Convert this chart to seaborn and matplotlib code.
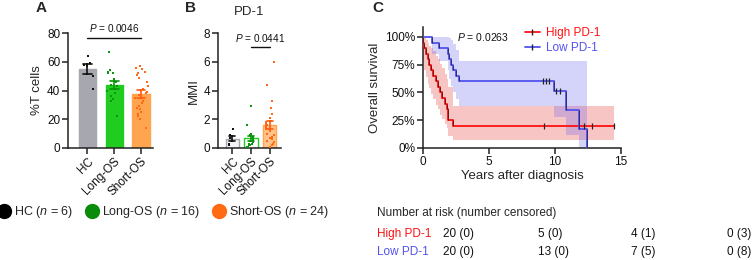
import numpy as np
import pandas as pd
import matplotlib
matplotlib.use("Agg")
import matplotlib.pyplot as plt
import seaborn as sns
from matplotlib.lines import Line2D

sns.set_theme(style="ticks")
plt.rcParams["font.family"] = ["Liberation Sans", "DejaVu Sans"]
plt.rcParams["mathtext.fontset"] = "custom"
plt.rcParams["mathtext.rm"] = "Liberation Sans"
plt.rcParams["mathtext.it"] = "Liberation Sans:italic"

# ---------------- data ----------------
groups = ["HC", "Long-OS", "Short-OS"]
group_n = [6, 16, 24]

tcells_hc = [64, 59, 58, 57, 50, 41]
tcells_long = [67, 54, 53, 52, 52, 48, 46, 44, 43, 41, 40, 38, 36, 34, 33, 22]
tcells_short = [57, 56, 55, 53, 52, 51, 49, 46, 43, 41, 39, 38, 37, 35, 33, 31,
                29, 28, 27, 25, 24, 22, 20, 14]

mmi_hc = [1.3, 0.9, 0.7, 0.5, 0.3, 0.2]
mmi_long = [2.9, 1.6, 1.0, 0.9, 0.8, 0.7, 0.6, 0.5, 0.5, 0.4, 0.3, 0.3, 0.2, 0.2, 0.1, 0.05]
mmi_short = [6.0, 4.4, 3.3, 2.8, 2.4, 2.1, 1.9, 1.8, 1.7, 1.6, 1.5, 1.4, 1.3, 1.2,
             1.0, 0.9, 0.8, 0.7, 0.6, 0.5, 0.4, 0.3, 0.2, 0.1]

p_a = "0.0046"
p_b = "0.0441"
p_c = "0.0263"
sig_a = (0, 2, 76.5)
sig_b = (1, 2, 7.0)

# Kaplan-Meier
high_t = [0, 0.03, 0.1, 0.2, 0.35, 0.45, 0.6, 0.75, 0.95, 1.1, 1.3, 1.45, 1.7, 1.8, 1.9, 2.25, 14.5]
high_s = [1, .95, .90, .85, .80, .75, .70, .65, .60, .55, .50, .45, .40, .35, .25, .20, .20]
high_lo = [1, .78, .70, .64, .58, .54, .49, .44, .39, .35, .30, .26, .22, .18, .11, .07, .07]
high_hi = [1, 1, .99, .97, .95, .92, .90, .87, .83, .80, .76, .72, .67, .62, .55, .38, .38]
high_cens_t = [9.2, 12.2, 12.8, 14.5]
high_cens_s = [.20, .20, .20, .20]

low_t = [0, 0.7, 1.2, 1.9, 2.0, 2.15, 2.3, 2.5, 2.7, 9.95, 10.85, 11.8, 12.4]
low_s = [1, .95, .90, .85, .80, .75, .70, .65, .60, .51, .34, .17, 0.0]
low_lo = [1, .85, .78, .70, .62, .56, .50, .44, .38, .28, .12, 0.0, 0.0]
low_hi = [1, 1, 1, 1, .99, .97, .94, .88, .78, .78, .78, .78, .78]
low_cens_t = [9.1, 9.3, 9.55, 10.05, 10.35]
low_cens_s = [.60, .60, .60, .51, .51]

risk_labels = ["High PD-1", "Low PD-1"]
risk_high = ["20 (0)", "5 (0)", "4 (1)", "0 (3)"]
risk_low = ["20 (0)", "13 (0)", "7 (5)", "0 (8)"]

# ---------------- styling ----------------
RED = "#ff1010"
BLUE = "#5252ee"
W, H = 752, 260
fig = plt.figure(figsize=(W / 100, H / 100), dpi=100)


def px_axes(x0, y0, x1, y1):
    return fig.add_axes([x0 / W, 1 - y1 / H, (x1 - x0) / W, (y1 - y0) / H])


def style_axis(ax):
    sns.despine(ax=ax)
    for s in ["left", "bottom"]:
        ax.spines[s].set_linewidth(1.1)
        ax.spines[s].set_color("#222222")
    ax.tick_params(axis="both", length=4, width=1.1, color="#222222",
                   labelsize=8.5, pad=1.5, labelcolor="#111111")


def bar_panel(ax, values, bar_fc, bar_ec, pt_c, err_c, width):
    df = pd.DataFrame({"group": np.repeat(groups, [len(v) for v in values]),
                       "value": np.concatenate(values)})
    for g in groups:
        sub = df[df["group"] == g]
        sns.barplot(data=sub, x="group", y="value", order=groups, errorbar="se",
                    capsize=0.33, width=width, color=bar_fc[g], saturation=1,
                    edgecolor=bar_ec[g], linewidth=1.0,
                    err_kws={"color": err_c[g], "linewidth": 1.2, "zorder": 5},
                    ax=ax)
        sns.stripplot(data=sub, x="group", y="value", order=groups, color=pt_c[g],
                      size=1.9, jitter=0.26, marker="s", linewidth=0, zorder=4, ax=ax)
    ax.set_xlabel("")
    ax.set_xticks(range(3))
    ax.set_xticklabels(groups, rotation=45, ha="right", rotation_mode="anchor")


np.random.seed(3)

# ---------------- Panel A ----------------
axA = px_axes(68, 33, 153, 148)
bar_panel(axA, [tcells_hc, tcells_long, tcells_short],
          bar_fc={"HC": "#a7a7b0", "Long-OS": "#1fcc1f", "Short-OS": "#ffa54f"},
          bar_ec={"HC": "#a7a7b0", "Long-OS": "#1fcc1f", "Short-OS": "#ffa54f"},
          pt_c={"HC": "#111111", "Long-OS": "#0a960a", "Short-OS": "#ff6a12"},
          err_c={"HC": "#111111", "Long-OS": "#0a960a", "Short-OS": "#ff5a10"},
          width=0.64)
axA.set_ylim(0, 80)
axA.set_yticks([0, 20, 40, 60, 80])
axA.set_xlim(-0.72, 2.45)
axA.set_ylabel("%T cells", fontsize=9.5, labelpad=3)
style_axis(axA)
axA.plot([sig_a[0], sig_a[1]], [sig_a[2], sig_a[2]], color="#111111", lw=1.0, clip_on=False)
axA.text((sig_a[0] + sig_a[1]) / 2, sig_a[2] + 2.5, r"$P$ = " + p_a, ha="center",
         va="bottom", fontsize=7.2, color="#111111")

# ---------------- Panel B ----------------
axB = px_axes(218, 33, 281, 148)
bar_panel(axB, [mmi_hc, mmi_long, mmi_short],
          bar_fc={"HC": "#f4f4f6", "Long-OS": "#ffffff", "Short-OS": "#ffc48c"},
          bar_ec={"HC": "#a7a7b0", "Long-OS": "#1fcc1f", "Short-OS": "#ffa54f"},
          pt_c={"HC": "#111111", "Long-OS": "#0a960a", "Short-OS": "#ff6a12"},
          err_c={"HC": "#111111", "Long-OS": "#0a960a", "Short-OS": "#ff5a10"},
          width=0.7)
axB.set_ylim(0, 8)
axB.set_yticks([0, 2, 4, 6, 8])
axB.set_xlim(-0.76, 2.6)
axB.set_ylabel("MMI", fontsize=9.5, labelpad=3)
style_axis(axB)
axB.plot([sig_b[0], sig_b[1]], [sig_b[2], sig_b[2]], color="#111111", lw=1.0, clip_on=False)
axB.text((sig_b[0] + sig_b[1]) / 2, sig_b[2] + 0.25, r"$P$ = " + p_b, ha="center",
         va="bottom", fontsize=7.2, color="#111111")
axB.text(0.5, 1.13, "PD-1", transform=axB.transAxes, ha="center", va="bottom", fontsize=9.5)

# ---------------- Panel C ----------------
axC = px_axes(423, 27, 621, 148)
axC.fill_between(high_t, high_lo, high_hi, step="post", color="#e83030", alpha=0.28, lw=0)
axC.fill_between(low_t, low_lo, low_hi, step="post", color="#5a5af0", alpha=0.26, lw=0)
sns.lineplot(x=high_t, y=high_s, drawstyle="steps-post", color=RED, lw=1.3,
             estimator=None, ax=axC, zorder=3)
sns.lineplot(x=low_t, y=low_s, drawstyle="steps-post", color=BLUE, lw=1.3,
             estimator=None, ax=axC, zorder=3)
axC.vlines(high_t[1:], high_s[:-1], high_s[1:], color="#6a1818", lw=0.7, zorder=4)
axC.vlines(low_t[1:], low_s[:-1], low_s[1:], color="#30306a", lw=0.7, zorder=4)
axC.plot(high_cens_t, high_cens_s, ls="none", marker="|", ms=5, mew=0.9, color="#222222", zorder=5)
axC.plot(low_cens_t, low_cens_s, ls="none", marker="|", ms=5, mew=0.9, color="#222222", zorder=5)
axC.set_xlim(0, 15)
axC.set_ylim(0, 1.09)
axC.set_xticks([0, 5, 10, 15])
axC.set_yticks([0, .25, .5, .75, 1.0])
axC.set_yticklabels(["0%", "25%", "50%", "75%", "100%"])
axC.set_xlabel("Years after diagnosis", fontsize=9.5, labelpad=2)
axC.set_ylabel("Overall survival", fontsize=9.5, labelpad=3)
style_axis(axC)
axC.text(2.6, 1.0, r"$P$ = " + p_c, ha="left", va="center", fontsize=7.5, color="#111111")
handles = [Line2D([], [], color=RED, lw=1.3, marker="|", mec="#222222", ms=5),
           Line2D([], [], color=BLUE, lw=1.3, marker="|", mec="#222222", ms=5)]
leg = axC.legend(handles, risk_labels, loc="upper left", bbox_to_anchor=(0.49, 1.04),
                 frameon=False, fontsize=8.5, handlelength=1.3, handletextpad=0.5,
                 labelspacing=0.25, borderaxespad=0)
for t, c in zip(leg.get_texts(), [RED, BLUE]):
    t.set_color(c)

# ---------------- Panel letters ----------------
for lab, x, y in [("A", 41, 8), ("B", 190, 8), ("C", 378, 8)]:
    fig.text(x / W, 1 - y / H, lab, ha="center", va="center", fontsize=11, fontweight="bold")

# ---------------- bottom group legend ----------------
lg_colors = ["#000000", "#0a8c0a", "#ff6a12"]
lg_handles = [Line2D([], [], ls="none", marker="o", ms=10, color=c) for c in lg_colors]
lg_labels = [f"{g} ($n$ = {n})" for g, n in zip(groups, group_n)]
fig.legend(lg_handles, lg_labels, loc="center left", bbox_to_anchor=(-0.004, 1 - 212 / H),
           ncol=3, frameon=False, fontsize=9, handletextpad=0.2, columnspacing=0.9,
           handlelength=1.2, borderaxespad=0, borderpad=0)

# ---------------- number at risk table ----------------
fig.text(377 / W, 1 - 213 / H, "Number at risk (number censored)", ha="left", va="center", fontsize=8.5)
col_x = [443, 538, 631, 727]
for row, (lab, vals, c, y) in enumerate(zip(risk_labels, [risk_high, risk_low], [RED, BLUE], [234, 252])):
    fig.text(377 / W, 1 - y / H, lab, ha="left", va="center", fontsize=8.5, color=c)
    for x, v in zip(col_x, vals):
        fig.text(x / W, 1 - y / H, v, ha="left", va="center", fontsize=8.5, color="#111111")

fig.savefig("out.png", dpi=100)
